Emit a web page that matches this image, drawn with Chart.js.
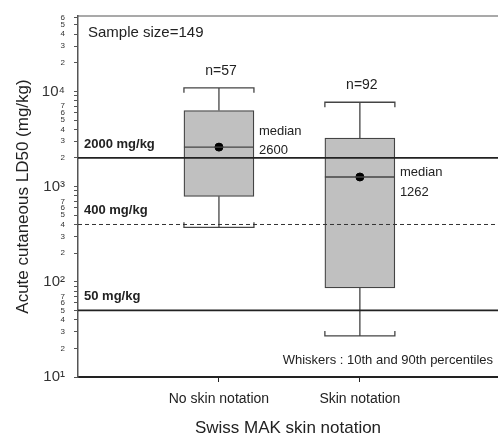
<!DOCTYPE html>
<html>
<head>
<meta charset="utf-8">
<script src="https://cdn.jsdelivr.net/npm/chart.js@4.4.0/dist/chart.umd.min.js"></script>
<style>
  html, body { margin: 0; padding: 0; background: #fff; }
  #wrap { width: 498px; height: 437px; }
</style>
</head>
<body>
<div id="wrap"><canvas id="chart" width="498" height="437"></canvas></div>
<script>
// ---- data ----
const GROUPS   = ['No skin notation', 'Skin notation'];
const GROUP_X  = [1, 2];
const N_COUNT  = [57, 92];
const P10      = [374, 27];
const Q1       = [790, 86];
const MEDIAN   = [2600, 1262];
const Q3       = [6300, 3240];
const P90      = [10900, 7700];

const REF_LEVELS = [2000, 400, 50];
const REF_LABELS = ['2000 mg/kg', '400 mg/kg', '50 mg/kg'];
const REF_DASHED = [false, true, false];

const Y_MIN = 10;
const Y_MAX = 62000;
const DECADES       = [10, 100, 1000, 10000];
const MAJOR_LABELS  = ['10¹', '10²', '10³', '10⁴'];
const MINOR_SHOWN   = [2, 3, 4, 5, 6, 7];

const FONT = '"Liberation Sans", Arial, Helvetica, sans-serif';
const INK  = '#222';

// all tick values 1..9 x 10^k inside the axis range
const Y_TICKS = [];
DECADES.forEach(d => {
  for (let m = 1; m <= 9; m++) {
    const v = m * d;
    if (v >= Y_MIN && v <= Y_MAX) Y_TICKS.push(v);
  }
});

function mantissa(v) {
  const d = Math.pow(10, Math.floor(Math.log10(v) + 1e-9));
  return Math.round(v / d);
}

// whiskers, medians, reference lines and annotations
const boxExtras = {
  id: 'boxExtras',
  afterDatasetsDraw(chart) {
    const { ctx, chartArea: a, scales: { x, y } } = chart;
    const halfW = 35;
    ctx.save();

    // top frame line
    ctx.strokeStyle = '#555';
    ctx.lineWidth = 1.2;
    ctx.beginPath();
    ctx.moveTo(a.left, a.top); ctx.lineTo(a.right, a.top);
    ctx.stroke();

    GROUP_X.forEach((gx, i) => {
      const cx = x.getPixelForValue(gx);
      const yQ1 = y.getPixelForValue(Q1[i]);
      const yQ3 = y.getPixelForValue(Q3[i]);
      const yLo = y.getPixelForValue(P10[i]);
      const yHi = y.getPixelForValue(P90[i]);
      const yMd = y.getPixelForValue(MEDIAN[i]);

      ctx.strokeStyle = '#444';
      ctx.lineWidth = 1.3;
      ctx.beginPath();
      // whisker stems
      ctx.moveTo(cx, yQ3); ctx.lineTo(cx, yHi);
      ctx.moveTo(cx, yQ1); ctx.lineTo(cx, yLo);
      // caps
      ctx.moveTo(cx - halfW, yHi + 5); ctx.lineTo(cx - halfW, yHi);
      ctx.lineTo(cx + halfW, yHi); ctx.lineTo(cx + halfW, yHi + 5);
      ctx.moveTo(cx - halfW, yLo - 5); ctx.lineTo(cx - halfW, yLo);
      ctx.lineTo(cx + halfW, yLo); ctx.lineTo(cx + halfW, yLo - 5);
      // median line
      ctx.moveTo(cx - halfW, yMd); ctx.lineTo(cx + halfW, yMd);
      ctx.stroke();

      // n= labels
      ctx.fillStyle = INK;
      ctx.font = '14px ' + FONT;
      ctx.textAlign = 'center';
      ctx.textBaseline = 'middle';
      ctx.fillText('n=' + N_COUNT[i], cx + 2, yHi - 17);

      // median labels
      ctx.font = '13px ' + FONT;
      ctx.textAlign = 'left';
      const lx = cx + halfW + 5;
      if (i === 0) {
        ctx.fillText('median', lx, yMd - 16);
        ctx.fillText(String(MEDIAN[i]), lx, yMd + 3);
      } else {
        ctx.fillText('median', lx, yMd - 5);
        ctx.fillText(String(MEDIAN[i]), lx, yMd + 15);
      }
    });

    // reference levels
    REF_LEVELS.forEach((lv, i) => {
      const py = y.getPixelForValue(lv);
      ctx.strokeStyle = REF_DASHED[i] ? '#333' : '#222';
      ctx.lineWidth = REF_DASHED[i] ? 1 : 1.8;
      ctx.setLineDash(REF_DASHED[i] ? [4, 3] : []);
      ctx.beginPath();
      ctx.moveTo(a.left, py); ctx.lineTo(a.right, py);
      ctx.stroke();
      ctx.setLineDash([]);
      ctx.fillStyle = INK;
      ctx.font = 'bold 13px ' + FONT;
      ctx.textAlign = 'left';
      ctx.textBaseline = 'middle';
      ctx.fillText(REF_LABELS[i], a.left + 6, py - 14);
    });

    ctx.fillStyle = INK;
    ctx.font = '15px ' + FONT;
    ctx.textAlign = 'left';
    ctx.textBaseline = 'middle';
    ctx.fillText('Sample size=149', a.left + 10, a.top + 17);

    ctx.font = '13px ' + FONT;
    ctx.textAlign = 'right';
    ctx.fillText('Whiskers : 10th and 90th percentiles', a.right - 5, a.bottom - 17);

    ctx.restore();
  }
};

new Chart(document.getElementById('chart'), {
  type: 'bar',
  data: {
    datasets: [
      {
        type: 'bar',
        data: GROUP_X.map((gx, i) => ({ x: gx, y: [Q1[i], Q3[i]] })),
        backgroundColor: '#c0c0c0',
        borderColor: '#444',
        borderWidth: 1.3,
        borderSkipped: false,
        barThickness: 70,
        order: 2
      },
      {
        type: 'scatter',
        data: GROUP_X.map((gx, i) => ({ x: gx, y: MEDIAN[i] })),
        backgroundColor: '#000',
        borderColor: '#000',
        pointRadius: 4,
        order: 1
      }
    ]
  },
  options: {
    responsive: false,
    animation: false,
    layout: { autoPadding: false, padding: { top: 16, right: 0, left: 0, bottom: 0 } },
    plugins: { legend: { display: false }, tooltip: { enabled: false } },
    scales: {
      x: {
        type: 'linear',
        min: 0,
        max: 2.98,
        offset: false,
        bounds: 'data',
        afterFit: s => { s.height = 60; s.paddingLeft = 0; s.paddingRight = 0; },
        afterBuildTicks: s => { s.ticks = GROUP_X.map(v => ({ value: v })); },
        grid: { drawOnChartArea: false, offset: false, tickLength: 5, color: INK },
        border: { color: INK, width: 2 },
        ticks: {
          padding: 9,
          color: INK,
          font: { family: FONT, size: 14 },
          callback: v => GROUPS[GROUP_X.indexOf(v)] || ''
        },
        title: {
          display: true,
          text: 'Swiss MAK skin notation',
          color: INK,
          font: { family: FONT, size: 17 },
          padding: { top: 0, bottom: -2 }
        }
      },
      y: {
        type: 'logarithmic',
        min: Y_MIN,
        max: Y_MAX,
        afterFit: s => { s.width = 78; },
        afterBuildTicks: s => { s.ticks = Y_TICKS.map(v => ({ value: v })); },
        grid: { drawOnChartArea: false, tickLength: 4, color: '#555' },
        border: { color: '#555', width: 1.5 },
        ticks: {
          autoSkip: false,
          padding: 9,
          color: '#333',
          font: ctx => {
            const v = ctx.tick ? ctx.tick.value : 10;
            return mantissa(v) === 1 ? { family: FONT, size: 15 } : { family: FONT, size: 8 };
          },
          callback: v => {
            const m = mantissa(v);
            if (m === 1) return MAJOR_LABELS[DECADES.indexOf(v)] || '';
            return MINOR_SHOWN.includes(m) ? String(m) : '';
          }
        },
        title: {
          display: true,
          text: 'Acute cutaneous LD50 (mg/kg)',
          color: INK,
          font: { family: FONT, size: 17 },
          padding: { top: 13, bottom: 0 }
        }
      }
    }
  },
  plugins: [boxExtras]
});
</script>
</body>
</html>
